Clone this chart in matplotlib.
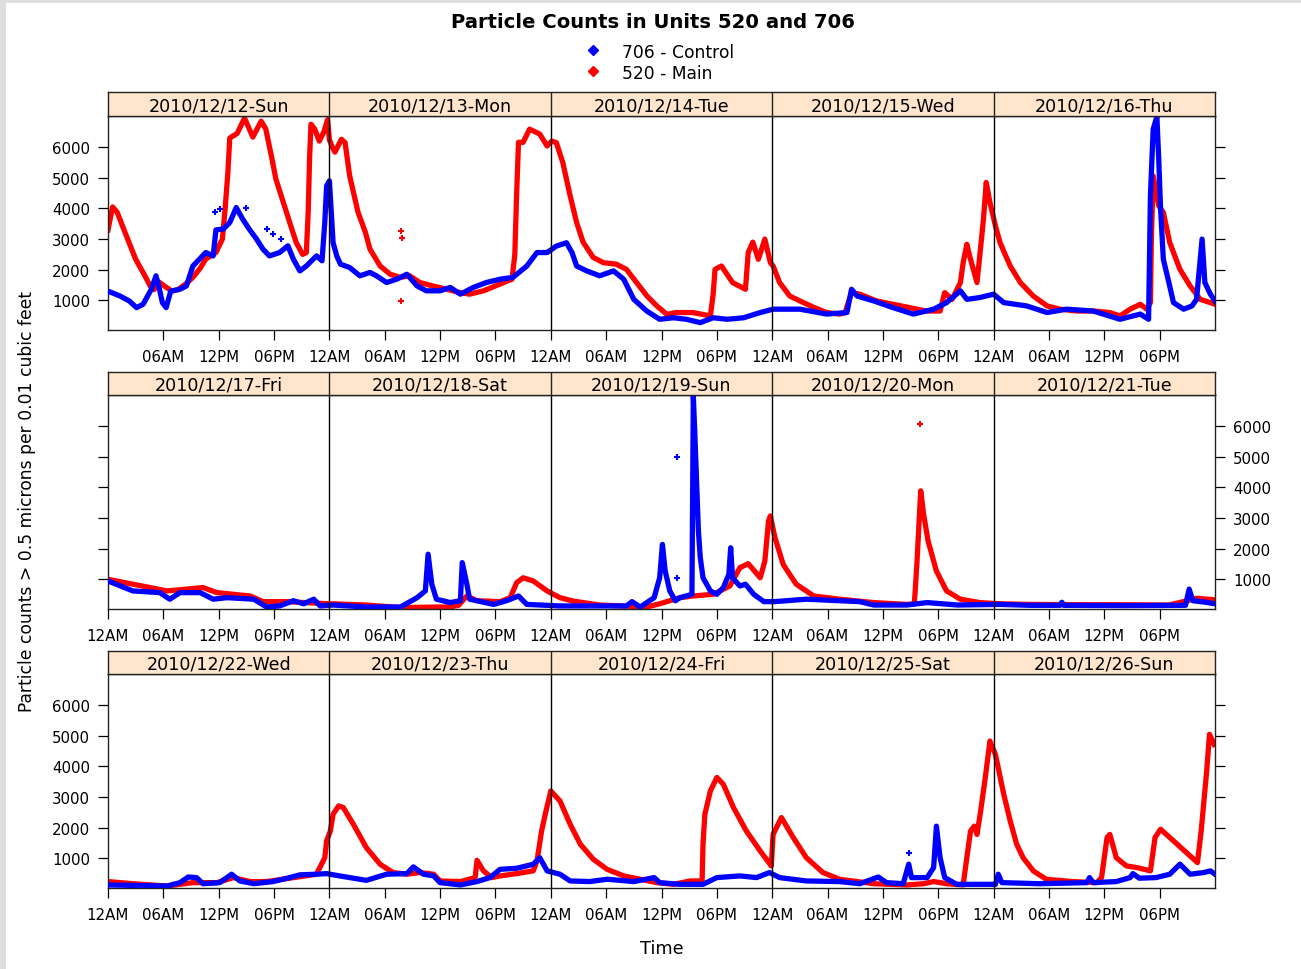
import numpy as np
import matplotlib
matplotlib.use("Agg")
import matplotlib.pyplot as plt
from matplotlib.patches import Rectangle

# day strips, three rows of five days
day_labels = [
    ["2010/12/12-Sun", "2010/12/13-Mon", "2010/12/14-Tue", "2010/12/15-Wed", "2010/12/16-Thu"],
    ["2010/12/17-Fri", "2010/12/18-Sat", "2010/12/19-Sun", "2010/12/20-Mon", "2010/12/21-Tue"],
    ["2010/12/22-Wed", "2010/12/23-Thu", "2010/12/24-Fri", "2010/12/25-Sat", "2010/12/26-Sun"],
]
hour_labels = ["12AM", "06AM", "12PM", "06PM"]

# (hours since start of row, particle count)
main_row1 = [
    (0.0, 3300), (0.5, 4050), (1.0, 3870), (2.0, 3100), (3.0, 2340), (4.0, 1800), (4.6, 1450),
    (5.0, 1350), (5.5, 1600), (6.2, 1450), (6.9, 1300), (7.6, 1350), (8.5, 1550), (9.2, 1750),
    (10.0, 2050), (10.6, 2350), (11.7, 2560), (12.4, 3000), (12.7, 4000), (13.0, 5200),
    (13.2, 6300), (14.0, 6450), (14.8, 6950), (15.7, 6330), (16.6, 6850), (17.1, 6600),
    (17.7, 5730), (18.2, 4960), (19.0, 4200), (19.7, 3540), (20.4, 2890), (21.1, 2500),
    (21.5, 2560), (21.7, 3870), (21.85, 5620), (22.0, 6750), (22.4, 6600), (22.9, 6200),
    (23.4, 6500), (23.8, 6900), (24.0, 6250), (24.25, 6040), (24.6, 5840), (25.3, 6260),
    (25.7, 6150), (26.2, 5060), (26.6, 4530), (27.1, 3880), (27.9, 3220), (28.4, 2670),
    (29.5, 2120), (30.6, 1850), (31.7, 1750), (32.7, 1800), (33.8, 1580), (35.2, 1470),
    (36.7, 1360), (38.2, 1250), (39.2, 1200), (40.7, 1310), (42.5, 1530), (43.8, 1690),
    (44.1, 2500), (44.3, 4500), (44.5, 6160), (45.0, 6160), (45.7, 6590), (46.8, 6430),
    (47.6, 6040), (48.1, 6200), (48.6, 6150), (49.3, 5500), (50.1, 4410), (50.8, 3540),
    (51.5, 2900), (52.6, 2400), (53.7, 2230), (55.1, 2180), (56.2, 2010), (57.3, 1580),
    (58.4, 1150), (59.5, 815), (60.6, 540), (61.6, 600), (63.4, 600), (65.3, 490), (65.6, 1200),
    (65.8, 2010), (66.5, 2120), (67.7, 1580), (69.1, 1360), (69.4, 2560), (69.9, 2900),
    (70.5, 2340), (71.2, 3000), (71.8, 2230), (72.1, 2120), (72.8, 1580), (73.9, 1140),
    (75.0, 980), (76.5, 770), (77.9, 600), (79.3, 550), (79.9, 600), (80.6, 1250), (81.5, 1200),
    (83.3, 980), (85.1, 870), (86.9, 760), (88.7, 650), (90.2, 650), (90.7, 1250), (91.5, 1030),
    (92.4, 1580), (92.7, 2230), (93.1, 2830), (93.4, 2450), (94.2, 1580), (94.5, 2450),
    (94.9, 3650), (95.2, 4850), (95.6, 4200), (96.2, 3430), (96.7, 2880), (97.8, 2120),
    (98.9, 1580), (100.3, 1140), (101.8, 815), (103.2, 710), (105.0, 650), (106.8, 650),
    (108.6, 600), (109.7, 490), (110.8, 710), (111.9, 870), (112.6, 710), (113.0, 925),
    (113.1, 3000), (113.3, 5060), (113.9, 4090), (114.4, 3870), (115.1, 2880), (116.2, 2010),
    (117.3, 1470), (118.4, 1030), (119.5, 925), (120.0, 870),
]
ctrl_row1 = [
    (0.0, 1300), (1.3, 1140), (2.3, 980), (3.1, 760), (3.8, 870), (4.7, 1360), (5.2, 1800),
    (5.5, 1470), (5.9, 920), (6.3, 760), (6.8, 1300), (7.8, 1360), (8.5, 1470), (9.2, 2120),
    (9.9, 2340), (10.6, 2560), (11.4, 2450), (11.7, 3300), (12.5, 3330), (13.2, 3540),
    (13.9, 4030), (14.6, 3650), (15.3, 3330), (16.1, 3000), (16.8, 2670), (17.5, 2450),
    (18.6, 2560), (19.5, 2780), (20.1, 2340), (20.8, 1960), (21.5, 2120), (22.6, 2450),
    (23.2, 2290), (23.5, 3540), (23.7, 4740), (24.0, 4900), (24.25, 3650), (24.4, 2880),
    (24.8, 2450), (25.2, 2180), (26.2, 2070), (27.3, 1800), (28.4, 1910), (29.1, 1800),
    (30.2, 1580), (31.3, 1690), (32.4, 1850), (33.5, 1470), (34.5, 1310), (36.0, 1310),
    (37.1, 1420), (38.2, 1200), (39.6, 1420), (41.0, 1580), (42.5, 1690), (43.9, 1750),
    (45.4, 2120), (46.5, 2560), (47.6, 2560), (48.6, 2770), (49.7, 2880), (50.3, 2560),
    (50.8, 2120), (51.9, 1960), (53.3, 1800), (54.8, 1960), (55.9, 1690), (57.0, 1030),
    (58.4, 650), (59.8, 380), (61.3, 430), (62.7, 380), (64.2, 270), (65.6, 430), (67.1, 380),
    (68.9, 430), (70.7, 600), (72.1, 710), (75.0, 710), (77.9, 550), (80.1, 600), (80.6, 1360),
    (81.2, 1140), (83.0, 980), (85.1, 760), (87.3, 550), (89.5, 710), (90.9, 925), (92.4, 1310),
    (93.1, 1030), (94.5, 1090), (96.0, 1200), (97.1, 925), (99.6, 815), (101.8, 600),
    (103.9, 710), (106.8, 650), (109.7, 380), (111.9, 550), (112.8, 380), (113.0, 4410),
    (113.3, 6590), (113.7, 7000), (113.9, 5610), (114.1, 3980), (114.4, 2340), (115.0, 1580),
    (115.5, 925), (116.6, 710), (117.5, 815), (118.0, 1030), (118.6, 3000), (118.9, 1580),
    (119.5, 1200), (120.0, 980),
]
main_row2 = [
    (0.0, 1000), (2.7, 840), (6.4, 620), (10.3, 730), (11.8, 565), (15.4, 455), (16.8, 270),
    (19.4, 270), (23.6, 205), (24.4, 200), (28.0, 160), (31.7, 75), (37.1, 100), (38.0, 150),
    (38.9, 455), (40.0, 300), (42.5, 270), (43.6, 400), (44.3, 890), (45.0, 1050), (46.1, 945),
    (47.6, 620), (49.0, 400), (50.4, 290), (53.3, 160), (58.4, 95), (59.8, 200), (62.0, 400),
    (63.4, 455), (65.6, 510), (67.4, 780), (68.5, 1380), (69.4, 1510), (70.7, 1050),
    (71.2, 1590), (71.6, 2900), (71.8, 3070), (72.3, 2360), (73.2, 1480), (74.6, 840),
    (76.5, 455), (79.3, 350), (83.0, 240), (86.6, 180), (87.4, 200), (87.5, 620), (87.7, 1590),
    (88.1, 3890), (88.4, 3150), (88.9, 2250), (89.8, 1270), (90.9, 620), (92.4, 350),
    (94.5, 240), (96.7, 200), (100.0, 180), (105.0, 170), (110.0, 170), (115.0, 160),
    (117.0, 300), (118.0, 380), (120.0, 330),
]
ctrl_row2 = [
    (0.0, 945), (2.7, 620), (5.6, 565), (6.7, 350), (7.8, 565), (10.0, 565), (11.4, 350),
    (12.9, 400), (15.8, 350), (17.2, 95), (18.6, 130), (20.1, 300), (21.2, 200), (22.3, 350),
    (23.0, 130), (24.4, 160), (28.0, 95), (31.7, 95), (33.5, 400), (34.4, 620), (34.7, 1820),
    (35.1, 840), (35.6, 350), (37.1, 240), (38.2, 300), (38.4, 1545), (38.9, 840), (39.2, 350),
    (41.8, 180), (43.2, 300), (44.5, 455), (45.4, 180), (49.0, 130), (56.2, 130), (56.8, 270),
    (57.7, 95), (59.2, 400), (59.8, 1050), (60.1, 2140), (60.4, 1270), (60.9, 620), (61.5, 300),
    (62.0, 400), (63.3, 510), (63.45, 6990), (63.6, 5850), (63.8, 4210), (64.0, 2580),
    (64.2, 1720), (64.5, 1050), (65.3, 620), (66.0, 510), (66.7, 730), (67.3, 1160),
    (67.5, 2030), (67.7, 1050), (68.5, 780), (69.1, 840), (70.0, 510), (71.1, 270), (72.2, 270),
    (75.7, 350), (79.3, 300), (81.5, 270), (83.0, 160), (86.6, 160), (88.8, 240), (92.1, 160),
    (96.7, 180), (100.0, 150), (103.2, 150), (103.4, 250), (103.6, 150), (110.0, 140),
    (116.8, 150), (117.2, 680), (117.6, 300), (119.0, 250), (120.0, 200),
]
main_row3 = [
    (0.0, 240), (2.7, 170), (6.4, 95), (9.2, 205), (11.8, 205), (13.6, 370), (15.4, 240),
    (17.2, 240), (20.8, 400), (22.6, 480), (23.5, 1020), (23.7, 1570), (24.1, 1890),
    (24.4, 2440), (25.0, 2710), (25.5, 2660), (26.6, 2110), (28.0, 1350), (29.5, 805),
    (30.9, 535), (32.4, 480), (33.8, 535), (35.3, 480), (36.0, 260), (38.2, 240), (39.8, 370),
    (40.0, 935), (40.7, 590), (41.6, 370), (42.5, 425), (44.3, 500), (46.1, 590), (46.5, 910),
    (47.0, 1890), (47.4, 2440), (48.0, 3200), (49.0, 2870), (50.1, 2110), (51.2, 1460),
    (52.6, 970), (54.1, 640), (55.9, 425), (57.7, 315), (59.5, 205), (61.3, 150), (63.1, 260),
    (64.4, 260), (64.5, 1460), (64.7, 2440), (65.3, 3200), (66.0, 3640), (66.7, 3420),
    (67.8, 2660), (69.2, 1890), (70.7, 1240), (71.9, 750), (72.1, 1780), (73.0, 2330),
    (74.3, 1670), (75.7, 1020), (77.5, 535), (79.3, 315), (83.0, 170), (86.6, 130), (88.4, 170),
    (89.5, 240), (90.9, 170), (92.7, 130), (93.1, 1020), (93.5, 1890), (93.9, 2050),
    (94.2, 1780), (94.6, 2550), (95.1, 3640), (95.6, 4830), (96.2, 4390), (97.1, 3090),
    (97.8, 2220), (98.5, 1460), (99.2, 1020), (100.3, 590), (101.7, 315), (104.6, 240),
    (107.2, 205), (107.7, 370), (108.3, 1680), (108.6, 1780), (109.3, 1020), (110.4, 750),
    (111.5, 700), (113.0, 590), (113.5, 1680), (114.1, 1950), (115.9, 1460), (117.7, 970),
    (118.1, 860), (118.5, 1890), (119.1, 3850), (119.4, 5050), (119.9, 4720),
]
ctrl_row3 = [
    (0.0, 130), (6.4, 95), (7.8, 205), (8.7, 390), (9.6, 370), (10.3, 170), (12.1, 205),
    (13.4, 480), (14.3, 260), (15.8, 170), (17.9, 240), (19.7, 370), (20.8, 460), (22.6, 480),
    (23.7, 500), (25.1, 425), (28.0, 280), (30.2, 480), (32.4, 500), (33.1, 720), (34.2, 480),
    (35.3, 425), (36.0, 205), (38.2, 130), (40.0, 240), (41.4, 370), (42.5, 640), (44.3, 675),
    (46.1, 805), (46.8, 1020), (47.6, 590), (49.0, 480), (50.1, 260), (52.2, 240), (54.1, 315),
    (57.0, 240), (59.2, 370), (59.8, 205), (62.0, 150), (64.5, 150), (66.0, 370), (68.5, 425),
    (70.3, 370), (71.7, 535), (72.8, 370), (75.7, 260), (79.3, 240), (81.5, 170), (83.5, 390),
    (84.4, 205), (86.2, 170), (86.8, 810), (87.1, 370), (88.8, 370), (89.5, 700), (89.8, 2050),
    (90.2, 1020), (90.7, 370), (92.0, 150), (96.2, 150), (96.5, 480), (96.9, 205), (101.0, 170),
    (106.1, 205), (106.4, 370), (106.8, 205), (109.3, 240), (110.8, 370), (111.1, 500),
    (111.8, 350), (113.6, 370), (115.1, 480), (116.2, 810), (117.3, 480), (118.8, 535),
    (119.5, 590), (120.0, 480),
]
# isolated readings away from the main trace
main_pts = [[(31.8, 3260), (31.9, 3050), (31.8, 980)], [(88.0, 6060)], []]
ctrl_pts = [[(11.6, 3880), (12.1, 3970), (15.0, 4030), (17.2, 3320), (17.9, 3160), (18.8, 3000)],
            [(61.65, 4980), (61.65, 1050)],
            [(86.8, 1180)]]

main_rows = [main_row1, main_row2, main_row3]
ctrl_rows = [ctrl_row1, ctrl_row2, ctrl_row3]

W, H = 1301, 970
fig = plt.figure(figsize=(W / 100, H / 100), dpi=100)
fig.add_artist(Rectangle((0, 1 - 4 / H), 1, 4 / H, transform=fig.transFigure, color="#dedede", lw=0))
fig.add_artist(Rectangle((0, 0), 6 / W, 1, transform=fig.transFigure, color="#dedede", lw=0))

left, right = 108, 1215
panel_top = [117, 396, 675]
panel_bot = [331, 610, 889]
strip_top = [93, 373, 652]
TICK = 10.8
LW = 3.8

for r in range(3):
    ax = fig.add_axes([left / W, 1 - panel_bot[r] / H, (right - left) / W,
                       (panel_bot[r] - panel_top[r]) / H])
    m = np.array(main_rows[r])
    c = np.array(ctrl_rows[r])
    ax.plot(m[:, 0], m[:, 1], color="red", lw=LW, solid_joinstyle="round", zorder=2)
    ax.plot(c[:, 0], c[:, 1], color="blue", lw=LW, solid_joinstyle="round", zorder=3)
    if main_pts[r]:
        p = np.array(main_pts[r])
        ax.plot(p[:, 0], p[:, 1], ls="none", marker="+", ms=5, mew=1.5, color="red", zorder=2)
    if ctrl_pts[r]:
        p = np.array(ctrl_pts[r])
        ax.plot(p[:, 0], p[:, 1], ls="none", marker="+", ms=5, mew=1.5, color="blue", zorder=3)
    for k in range(1, 5):
        ax.axvline(24 * k, color="black", lw=1, zorder=4)
    ax.set_xlim(0, 120)
    ax.set_ylim(30, 7020)

    xt = np.arange(0, 120, 6)
    xl = [hour_labels[i % 4] for i in range(len(xt))]
    if r == 0:
        xt, xl = xt[1:], xl[1:]
    ax.set_xticks(xt)
    ax.set_xticklabels(xl, fontsize=TICK)
    ax.set_yticks(np.arange(1000, 7000, 1000))
    ax.set_yticklabels([str(v) for v in range(1000, 7000, 1000)], fontsize=TICK)
    lab_left = r != 1
    ax.tick_params(axis="y", direction="out", length=7, width=0.9, pad=6,
                   left=True, right=True, labelleft=lab_left, labelright=not lab_left)
    ax.tick_params(axis="x", direction="out", length=7, width=0.9, pad=7, top=False)
    for s in ax.spines.values():
        s.set_linewidth(1)
        s.set_color("#222222")

    sx = fig.add_axes([left / W, 1 - panel_top[r] / H, (right - left) / W,
                       (panel_top[r] - strip_top[r]) / H])
    sx.set_facecolor("#ffe5cc")
    sx.set_xlim(0, 5)
    sx.set_ylim(0, 1)
    sx.set_xticks([])
    sx.set_yticks([])
    for s in sx.spines.values():
        s.set_linewidth(1)
        s.set_color("#222222")
    for k in range(5):
        if k > 0:
            sx.axvline(k, color="#222222", lw=1)
        sx.text(k + 0.5, 0.45, day_labels[r][k], ha="center", va="center", fontsize=12.6)

fig.text(653 / W, 1 - 23 / H, "Particle Counts in Units 520 and 706", ha="center", va="center",
         fontsize=14.1, fontweight="bold")
fig.lines.append(plt.Line2D([593 / W], [1 - 51 / H], transform=fig.transFigure, ls="none",
                            marker="D", ms=5, color="blue"))
fig.lines.append(plt.Line2D([593 / W], [1 - 72 / H], transform=fig.transFigure, ls="none",
                            marker="D", ms=5, color="red"))
fig.text(622 / W, 1 - 53 / H, "706 - Control", ha="left", va="center", fontsize=12.3)
fig.text(622 / W, 1 - 74 / H, "520 - Main", ha="left", va="center", fontsize=12.3)
fig.text(27 / W, 1 - 502 / H, "Particle counts > 0.5 microns per 0.01 cubic feet", rotation=90,
         ha="center", va="center", fontsize=12.3)
fig.text(662 / W, 1 - 949 / H, "Time", ha="center", va="center", fontsize=12.8)

fig.savefig("out.png", dpi=100)
